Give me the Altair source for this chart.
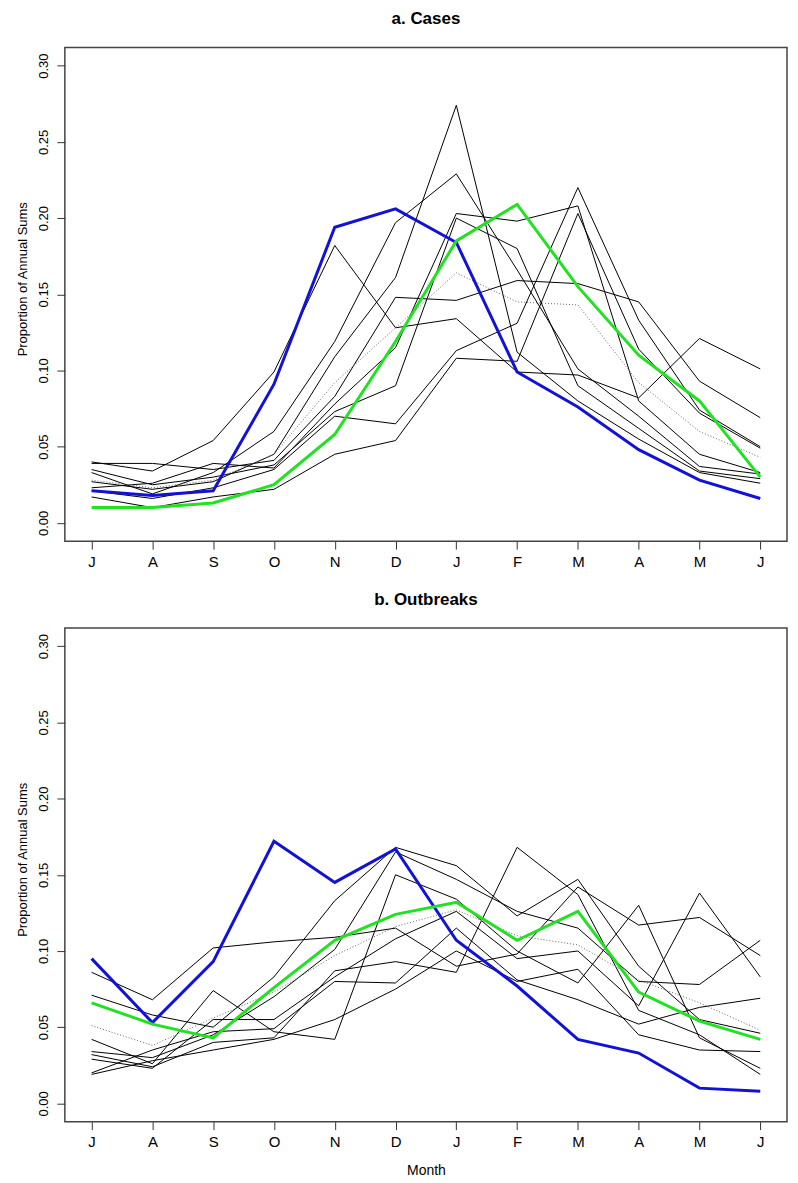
import json
import altair as alt
import pandas as pd

months = ["J", "A", "S", "O", "N", "D", "J", "F", "M", "A", "M", "J"]
month_idx = list(range(1, 13))

# ---- a. Cases ----
cases_black = [
    [0.040, 0.034, 0.054, 0.099, 0.182, 0.128, 0.134, 0.099, 0.097, 0.082, 0.121, 0.101],
    [0.039, 0.039, 0.035, 0.041, 0.083, 0.148, 0.146, 0.159, 0.157, 0.145, 0.093, 0.069],
    [0.027, 0.022, 0.027, 0.045, 0.109, 0.161, 0.274, 0.112, 0.080, 0.055, 0.033, 0.026],
    [0.033, 0.019, 0.033, 0.060, 0.119, 0.197, 0.229, 0.166, 0.101, 0.070, 0.037, 0.032],
    [0.023, 0.026, 0.039, 0.036, 0.078, 0.115, 0.203, 0.198, 0.208, 0.080, 0.045, 0.033],
    [0.035, 0.025, 0.030, 0.038, 0.073, 0.090, 0.200, 0.180, 0.090, 0.062, 0.034, 0.029],
    [0.021, 0.016, 0.023, 0.035, 0.070, 0.065, 0.113, 0.131, 0.220, 0.133, 0.074, 0.050],
    [0.017, 0.010, 0.017, 0.022, 0.045, 0.054, 0.108, 0.106, 0.203, 0.114, 0.072, 0.049],
]
cases_mean = [0.028, 0.023, 0.028, 0.045, 0.092, 0.128, 0.164, 0.145, 0.143, 0.092, 0.060, 0.043]
cases_blue = [0.021, 0.018, 0.021, 0.091, 0.194, 0.206, 0.184, 0.099, 0.076, 0.048, 0.028, 0.016]
cases_green = [0.010, 0.010, 0.013, 0.025, 0.058, 0.119, 0.185, 0.209, 0.155, 0.110, 0.080, 0.030]

# ---- b. Outbreaks ----
outbreaks_black = [
    [0.086, 0.068, 0.102, 0.106, 0.109, 0.115, 0.090, 0.098, 0.142, 0.117, 0.122, 0.097],
    [0.071, 0.058, 0.050, 0.083, 0.133, 0.168, 0.156, 0.123, 0.147, 0.090, 0.055, 0.046],
    [0.034, 0.030, 0.045, 0.070, 0.101, 0.165, 0.147, 0.126, 0.115, 0.080, 0.078, 0.107],
    [0.042, 0.026, 0.074, 0.047, 0.042, 0.150, 0.134, 0.100, 0.079, 0.130, 0.043, 0.023],
    [0.032, 0.024, 0.040, 0.043, 0.087, 0.093, 0.086, 0.168, 0.137, 0.061, 0.045, 0.019],
    [0.029, 0.023, 0.055, 0.055, 0.083, 0.108, 0.126, 0.095, 0.100, 0.064, 0.138, 0.083],
    [0.020, 0.035, 0.047, 0.049, 0.080, 0.079, 0.115, 0.081, 0.068, 0.052, 0.063, 0.069],
    [0.019, 0.028, 0.035, 0.042, 0.055, 0.075, 0.100, 0.080, 0.088, 0.045, 0.035, 0.034],
]
outbreaks_mean = [0.051, 0.038, 0.056, 0.073, 0.097, 0.116, 0.127, 0.110, 0.104, 0.081, 0.066, 0.048]
outbreaks_blue = [0.095, 0.053, 0.093, 0.172, 0.145, 0.167, 0.107, 0.077, 0.042, 0.033, 0.010, 0.008]
outbreaks_green = [0.066, 0.052, 0.043, 0.076, 0.107, 0.124, 0.132, 0.107, 0.126, 0.073, 0.054, 0.042]

y_ticks = [0.0, 0.05, 0.10, 0.15, 0.20, 0.25, 0.30]

FONT = "Liberation Sans"
W, H = 724, 495
label_expr = "%s[datum.value - 1]" % json.dumps(months)


def long_df(lists, prefix):
    rows = []
    for k, vals in enumerate(lists):
        for m, v in zip(month_idx, vals):
            rows.append({"series": f"{prefix}{k}", "m": m, "v": v})
    return pd.DataFrame(rows)


def panel(black, mean, blue, green, title, xtitle):
    xaxis_kw = dict(values=month_idx, labelExpr=label_expr, tickSize=8, labelPadding=5,
                    labelFontSize=15, labelFont=FONT, labelColor="black", tickColor="#333333",
                    domain=False, grid=False, labelAngle=0,
                    titleFontSize=14, titleFont=FONT, titleFontWeight="normal",
                    titleColor="black", titlePadding=14)
    xaxis = alt.Axis(title=xtitle, **xaxis_kw) if xtitle else alt.Axis(title=None, **xaxis_kw)
    x = alt.X("m:Q", scale=alt.Scale(domain=[0.56, 12.44], nice=False, zero=False), axis=xaxis)
    y = alt.Y("v:Q", scale=alt.Scale(domain=[-0.012, 0.312], nice=False, zero=False),
              axis=alt.Axis(values=y_ticks, format=".2f", labelAngle=270, labelAlign="center",
                            labelBaseline="bottom", tickSize=8, labelPadding=6,
                            labelFontSize=13, labelFont=FONT, labelColor="black",
                            tickColor="#333333", domain=False, grid=False,
                            title="Proportion of Annual Sums", titleFontSize=13,
                            titleFont=FONT, titleFontWeight="normal", titleColor="black",
                            titlePadding=8, titleY=232))

    base_black = alt.Chart(long_df(black, "y")).mark_line(color="black", strokeWidth=1).encode(
        x=x, y=y, detail="series:N")
    base_mean = alt.Chart(long_df([mean], "mean")).mark_line(
        color="#666666", strokeWidth=1, strokeDash=[1, 2]).encode(x=x, y=y)
    base_blue = alt.Chart(long_df([blue], "blue")).mark_line(
        color="#1212d6", strokeWidth=3).encode(x=x, y=y)
    base_green = alt.Chart(long_df([green], "green")).mark_line(
        color="#22e022", strokeWidth=3).encode(x=x, y=y)

    return alt.layer(base_black, base_mean, base_blue, base_green).properties(
        width=W, height=H,
        title=alt.TitleParams(title, fontSize=17, font=FONT, fontWeight="bold",
                              anchor="middle", offset=19, color="black"))


pa = panel(cases_black, cases_mean, cases_blue, cases_green, "a. Cases", None)
pb = panel(outbreaks_black, outbreaks_mean, outbreaks_blue, outbreaks_green, "b. Outbreaks", "Month")

chart = alt.vconcat(pa, pb, spacing=20).properties(
    padding={"left": 8, "top": 0, "right": 2, "bottom": 2}
).configure(
    font=FONT, background="white"
).configure_view(
    stroke="#444444", strokeWidth=1.5
)

chart.save("out.html", embed_options={"renderer": "svg", "actions": False})
